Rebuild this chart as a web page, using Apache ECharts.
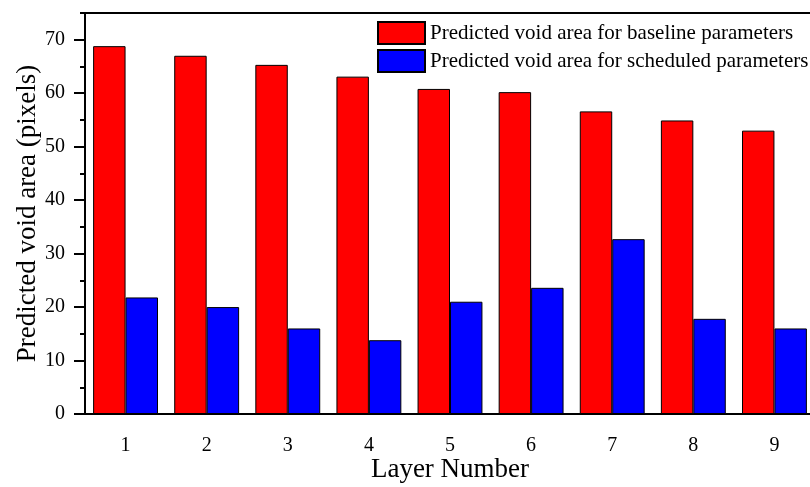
<!DOCTYPE html>
<html>
<head>
<meta charset="utf-8">
<script src="https://cdn.jsdelivr.net/npm/echarts@6/dist/echarts.min.js"></script>
<style>
  html, body { margin: 0; padding: 0; background: #fff; }
  #chart { width: 810px; height: 487px; }
</style>
</head>
<body>
<div id="chart"></div>
<script>
// Layer numbers along the x axis
const layers = ['1', '2', '3', '4', '5', '6', '7', '8', '9'];
// Predicted void area (pixels) per layer
const baselineArea = [68.8, 67.0, 65.3, 63.1, 60.8, 60.2, 56.6, 54.9, 53.0];
const scheduledArea = [21.8, 20.0, 16.0, 13.8, 21.0, 23.6, 32.7, 17.8, 16.0];
// Y axis ticks: labelled major ticks and short minor ticks
const yMajorTicks = [0, 10, 20, 30, 40, 50, 60, 70];
const yMinorTicks = [5, 15, 25, 35, 45, 55, 65, 75];
const yMax = 75;

const serif = '"Liberation Serif", "Times New Roman", serif';
const chart = echarts.init(document.getElementById('chart'), null, { renderer: 'canvas' });

const barBorder = { borderColor: '#000', borderWidth: 1 };

chart.setOption({
  animation: false,
  backgroundColor: '#fff',
  textStyle: { fontFamily: serif, color: '#000' },
  grid: {
    left: 85, top: 13, right: -5, bottom: 73,
    outerBoundsMode: 'none',
    containLabel: false,
    show: true, borderColor: '#000', borderWidth: 2, backgroundColor: 'transparent'
  },
  legend: {
    orient: 'vertical',
    left: 377, top: 21,
    padding: 0,
    itemWidth: 47, itemHeight: 22, itemGap: 4,
    icon: 'rect',
    textStyle: { fontFamily: serif, fontSize: 21, color: '#000' },
    data: ['Predicted void area for baseline parameters', 'Predicted void area for scheduled parameters']
  },
  xAxis: {
    type: 'category',
    data: layers,
    name: 'Layer Number',
    nameLocation: 'middle',
    nameGap: 42,
    nameMoveOverlap: false,
    nameTextStyle: { fontFamily: serif, fontSize: 27, color: '#000' },
    axisLine: { lineStyle: { color: '#000', width: 2 } },
    axisTick: { alignWithLabel: true, length: 10, lineStyle: { color: '#000', width: 2 } },
    axisLabel: { fontFamily: serif, fontSize: 20, color: '#000', margin: 22 }
  },
  yAxis: [
    {
      type: 'value',
      min: 0, max: yMax,
      name: 'Predicted void area (pixels)',
      nameLocation: 'middle',
      nameGap: 44,
      nameMoveOverlap: false,
      nameTextStyle: { fontFamily: serif, fontSize: 27, color: '#000' },
      axisLine: { show: true, lineStyle: { color: '#000', width: 2 } },
      axisTick: { show: true, length: 11, customValues: yMajorTicks, lineStyle: { color: '#000', width: 2 } },
      axisLabel: { fontFamily: serif, fontSize: 20, color: '#000', margin: 20, customValues: yMajorTicks },
      splitLine: { show: false }
    },
    {
      type: 'value',
      position: 'left',
      min: 0, max: yMax,
      axisLine: { show: true, lineStyle: { color: '#000', width: 2 } },
      axisTick: { show: true, length: 5, customValues: yMinorTicks, lineStyle: { color: '#000', width: 2 } },
      axisLabel: { show: false },
      splitLine: { show: false }
    }
  ],
  series: [
    {
      name: 'Predicted void area for baseline parameters',
      type: 'bar',
      data: baselineArea,
      barGap: '0%',
      barCategoryGap: '20%',
      itemStyle: Object.assign({ color: '#ff0000' }, barBorder)
    },
    {
      name: 'Predicted void area for scheduled parameters',
      type: 'bar',
      data: scheduledArea,
      barGap: '0%',
      barCategoryGap: '20%',
      itemStyle: Object.assign({ color: '#0000ff' }, barBorder)
    }
  ]
});
</script>
</body>
</html>
